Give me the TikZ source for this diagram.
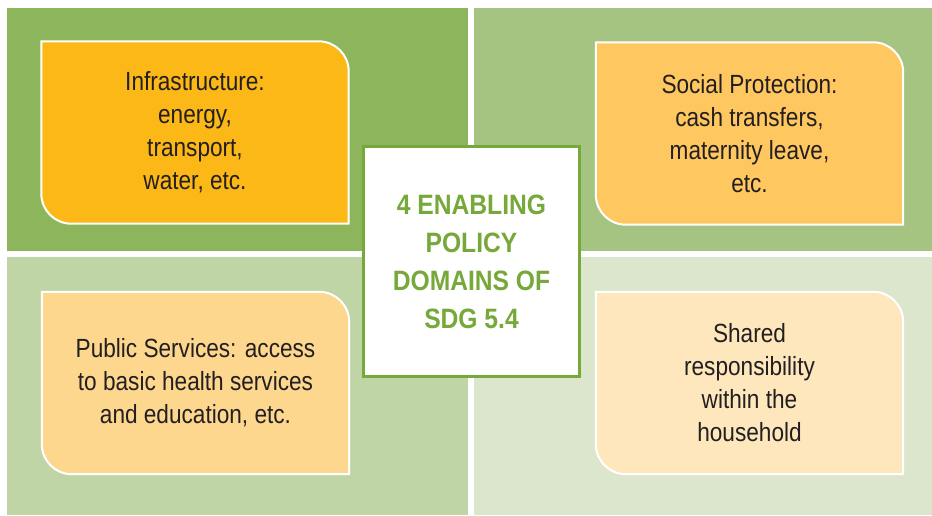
\documentclass[tikz,border=0pt]{standalone}
\usepackage{fontspec}
\setmainfont[FakeStretch=0.86]{Liberation Sans}
\newfontfamily\titlefont[FakeStretch=0.88]{Liberation Sans}
\definecolor{qa}{HTML}{8DB55C}
\definecolor{qb}{HTML}{A5C481}
\definecolor{qc}{HTML}{C0D5A5}
\definecolor{qd}{HTML}{DBE6CC}
\definecolor{ba}{HTML}{FBB817}
\definecolor{bb}{HTML}{FEC760}
\definecolor{bc}{HTML}{FED78F}
\definecolor{bd}{HTML}{FEE7BD}
\definecolor{sdg}{HTML}{76A83A}
\definecolor{ink}{HTML}{231F20}
\tikzset{
  boxtext/.style={inner sep=0pt, minimum width=307pt, minimum height=182pt, align=center,
    text=ink, font=\fontsize{26.3}{33}\selectfont},
  leafshape/.style={line width=2pt, draw=white},
  centerbox/.style={draw=sdg, line width=3pt, fill=white, minimum width=216pt, minimum height=230pt,
    inner sep=0pt, align=center, text=sdg, font=\titlefont\bfseries\fontsize{28}{38}\selectfont}
}
\newcommand{\leaf}[2]{%
  \path[leafshape, fill=#2] (#1.north west) -- ([xshift=-30pt]#1.north east)
    arc[start angle=90, end angle=0, radius=30pt] -- (#1.south east)
    -- ([xshift=30pt]#1.south west) arc[start angle=270, end angle=180, radius=30pt] -- cycle;}
\begin{document}
\begin{tikzpicture}[x=1pt,y=-1pt]
\useasboundingbox (0,0) rectangle (932,515);
\fill[white] (0,0) rectangle (932,515);
% quadrants
\fill[qa] (7,8) rectangle (468,250.5);
\fill[qb] (474,8) rectangle (932,250.5);
\fill[qc] (7,257) rectangle (468,515);
\fill[qd] (474,257) rectangle (932,515);
% leaf boxes
\node[boxtext] (infra) at (195,132.5) {};
\leaf{infra}{ba}
\node[boxtext] at (infra.center) {Infrastructure:\\energy,\\transport,\\water, etc.};
\node[boxtext] (social) at (749.5,133.5) {};
\leaf{social}{bb}
\node[boxtext] at (social.center) {Social Protection:\\cash transfers,\\maternity leave,\\etc.};
\node[boxtext] (public) at (195.5,383) {};
\leaf{public}{bc}
\node[boxtext] at (public.center) {Public Services: access\\to basic health services\\and education, etc.};
\node[boxtext] (shared) at (749.5,383) {};
\leaf{shared}{bd}
\node[boxtext] at (shared.center) {Shared\\responsibility\\within the\\household};
% center
\node[centerbox] (title) at (471.5,261.5) {4 ENABLING\\POLICY\\DOMAINS OF\\SDG 5.4};
\end{tikzpicture}
\end{document}
